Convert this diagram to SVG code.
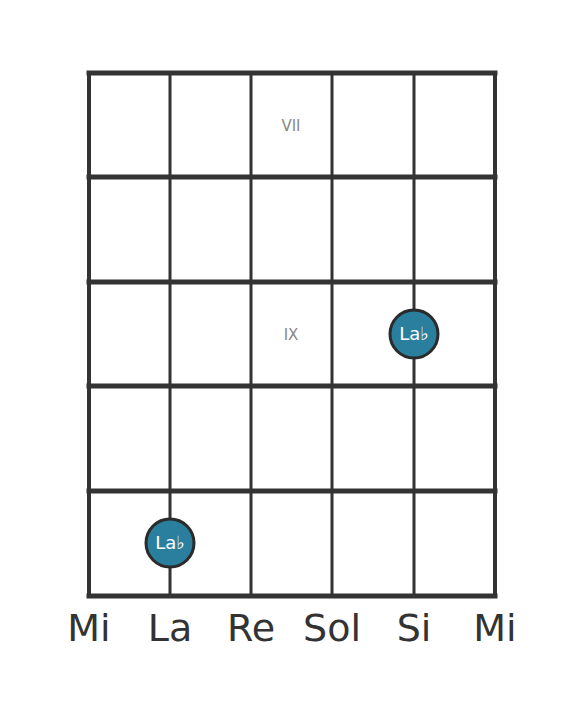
<svg xmlns="http://www.w3.org/2000/svg" width="584" height="711" viewBox="0 0 584 711">
<style>
.fret{stroke:#333;stroke-width:5;stroke-linecap:square}
.str{stroke:#333;stroke-width:3}
.edge{stroke:#333;stroke-width:4}
.dot{fill:#2a7f9e;stroke:#2b2b2b;stroke-width:3}
.dl{font-family:"DejaVu Sans",sans-serif;font-size:18px;fill:#fff;text-anchor:middle}
.fn{font-family:"DejaVu Sans",sans-serif;font-size:15px;fill:#888;text-anchor:middle}
.sl{font-family:"DejaVu Sans",sans-serif;font-size:38px;fill:#333;text-anchor:middle}
</style>
<rect width="584" height="711" fill="#fff"/>
<g id="connectors">
<line class="edge" x1="89" y1="72" x2="89" y2="596"/>
<line class="str" x1="170" y1="72" x2="170" y2="596"/>
<line class="str" x1="251" y1="72" x2="251" y2="596"/>
<line class="str" x1="332" y1="72" x2="332" y2="596"/>
<line class="str" x1="414" y1="72" x2="414" y2="596"/>
<line class="edge" x1="495" y1="72" x2="495" y2="596"/>
<line class="fret" x1="89" y1="73" x2="495" y2="73"/>
<line class="fret" x1="89" y1="177" x2="495" y2="177"/>
<line class="fret" x1="89" y1="282" x2="495" y2="282"/>
<line class="fret" x1="89" y1="386" x2="495" y2="386"/>
<line class="fret" x1="89" y1="491" x2="495" y2="491"/>
<line class="fret" x1="89" y1="596" x2="495" y2="596"/>
</g>
<g id="fret-labels">
<text class="fn" x="291" y="131">VII</text>
<text class="fn" x="291" y="340">IX</text>
</g>
<g id="note-1">
<circle class="dot" cx="414" cy="334" r="24"/>
<text class="dl" x="414" y="340">La♭</text>
</g>
<g id="note-2">
<circle class="dot" cx="170" cy="543" r="24"/>
<text class="dl" x="170" y="549">La♭</text>
</g>
<g id="string-labels">
<text class="sl" x="89" y="641">Mi</text>
<text class="sl" x="170" y="641">La</text>
<text class="sl" x="251" y="641">Re</text>
<text class="sl" x="332" y="641">Sol</text>
<text class="sl" x="414" y="641">Si</text>
<text class="sl" x="495" y="641">Mi</text>
</g>
</svg>
